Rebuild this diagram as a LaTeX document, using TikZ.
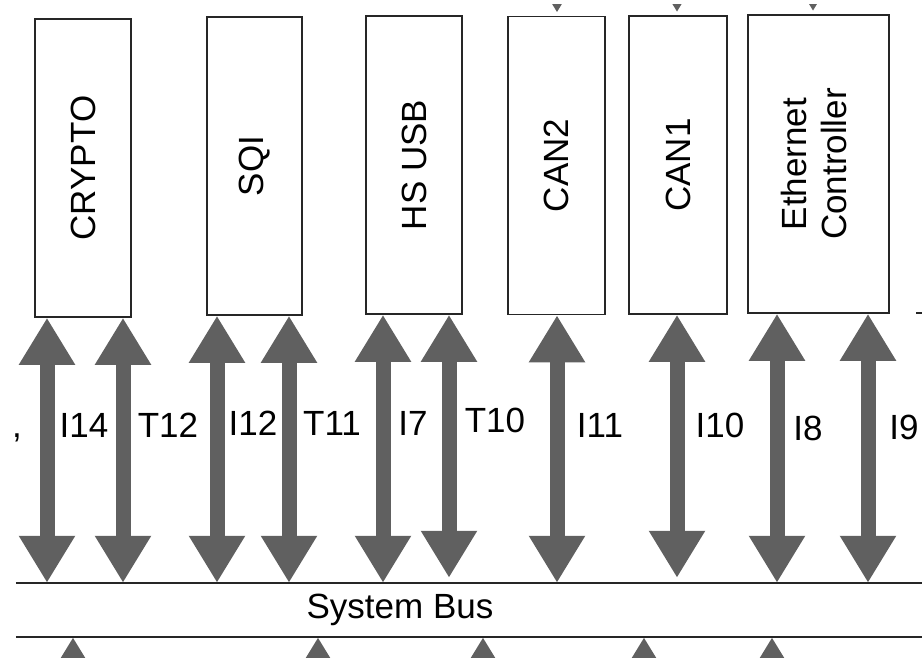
\documentclass[tikz,border=0pt]{standalone}
\usepackage{graphicx}
\usepackage{fontspec}
\setmainfont{Liberation Sans}
\usetikzlibrary{arrows.meta}
\definecolor{linkgray}{RGB}{96,96,96}

\begin{document}
\begin{tikzpicture}[x=1pt,y=-1pt,
    periph/.style={draw=black!85,line width=1.6pt,minimum height=298pt,inner sep=0pt,
      font=\fontsize{35}{40}\selectfont},
    buslink/.style={draw=linkgray,line width=15pt,>={Triangle[width=53pt,length=47pt]}},
    lbl/.style={inner sep=0pt,font=\fontsize{35}{40}\selectfont},
    busline/.style={draw=black!85,line width=1.6pt}]
  \clip (0,0) rectangle (922,658);

  % peripherals
  \node[periph,minimum width=96pt] (crypto) at (83,168) {\rotatebox{90}{CRYPTO}};
  \node[periph,minimum width=95pt] (sqi) at (254.5,166) {\rotatebox{90}{SQI}};
  \node[periph,minimum width=96pt] (hsusb) at (414,165) {\rotatebox{90}{HS USB}};
  \node[periph,minimum width=97pt] (can2) at (556.5,165.5) {\rotatebox{90}{CAN2}};
  \node[periph,minimum width=98pt] (can1) at (678,165) {\rotatebox{90}{CAN1}};
  \node[periph,minimum width=141pt] (eth) at (818.5,164)
    {\rotatebox{90}{\begin{tabular}{@{}c@{}}Ethernet\\Controller\end{tabular}}};

  % system bus
  \node[minimum width=914pt,minimum height=54pt,inner sep=0pt] (bus) at (473,610) {};
  \draw[busline] (bus.north west) -- (bus.north east);
  \draw[busline] (bus.south west) -- (bus.south east);
  \node[lbl] (buslbl) at (400,610) {System Bus};

  % links to the bus
  \draw[buslink,<->] (47,0 |- crypto.south) -- (47,0 |- bus.north);
  \draw[buslink,<->] (123,0 |- crypto.south) -- (123,0 |- bus.north);
  \draw[buslink,<->] (217,0 |- sqi.south) -- (217,0 |- bus.north);
  \draw[buslink,<->] (289,0 |- sqi.south) -- (289,0 |- bus.north);
  \draw[buslink,<->] (383,0 |- hsusb.south) -- (383,0 |- bus.north);
  \draw[buslink,<->,shorten >=5pt] (449,0 |- hsusb.south) -- (449,0 |- bus.north);
  \draw[buslink,<->] (557,0 |- can2.south) -- (557,0 |- bus.north);
  \draw[buslink,<->,shorten >=5pt] (677,0 |- can1.south) -- (677,0 |- bus.north);
  \draw[buslink,<->] (777,0 |- eth.south) -- (777,0 |- bus.north);
  \draw[buslink,<->] (868,0 |- eth.south) -- (868,0 |- bus.north);

  \node[lbl] (l14) at (84,425) {I14};
  \node[lbl] (t12) at (168,425) {T12};
  \node[lbl] (l12) at (253,423) {I12};
  \node[lbl] (t11) at (332,423) {T11};
  \node[lbl] (l7) at (413,423) {I7};
  \node[lbl] (t10) at (495,420) {T10};
  \node[lbl] (l11) at (600,425) {I11};
  \node[lbl] (l10) at (720,425) {I10};
  \node[lbl] (l8) at (808,428) {I8};
  \node[lbl] (l9) at (904,427) {I9};
  \node[lbl,anchor=base] (cm) at (17,437) {,};

  % links leaving the picture
  \coordinate (b1) at (73,720);
  \coordinate (b2) at (318,720);
  \coordinate (b3) at (483,720);
  \coordinate (b4) at (644,720);
  \coordinate (b5) at (772,720);
  \draw[buslink,->] (b1) -- (b1 |- bus.south);
  \draw[buslink,->] (b2) -- (b2 |- bus.south);
  \draw[buslink,->] (b3) -- (b3 |- bus.south);
  \draw[buslink,->] (b4) -- (b4 |- bus.south);
  \draw[buslink,->] (b5) -- (b5 |- bus.south);
  \begin{scope}
    \clip (0,5) rectangle (922,100);
    \coordinate (u1) at (557,-80);
    \coordinate (u2) at (677,-80);
    \coordinate (u3) at (813,-80);
    \draw[buslink,->,shorten >=3pt] (u1) -- (u1 |- can2.north);
    \draw[buslink,->,shorten >=3pt] (u2) -- (u2 |- can1.north);
    \draw[buslink,->,shorten >=3pt] (u3) -- (u3 |- eth.north);
  \end{scope}
  \draw[busline] (916,313) -- (922,313);
\end{tikzpicture}
\end{document}
